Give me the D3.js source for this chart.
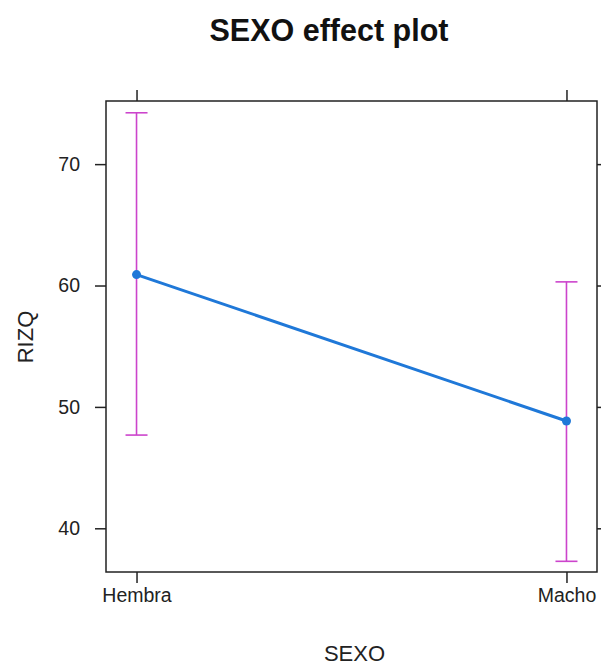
<!DOCTYPE html>
<html>
<head>
<meta charset="utf-8">
<script src="https://cdn.jsdelivr.net/npm/d3@7"></script>
<style>
  html, body { margin: 0; padding: 0; background: #fff; }
  svg text { font-family: "Liberation Sans", Arial, sans-serif; }
</style>
</head>
<body>
<svg id="chart" width="601" height="666"></svg>
<script>
// Effect of SEXO on RIZQ: fitted means with confidence limits
const categories = ["Hembra", "Macho"];
const fitValues = [60.9, 48.84];
const lowerValues = [47.68, 37.28];
const upperValues = [74.23, 60.3];
const yTickValues = [40, 50, 60, 70];

const svg = d3.select("#chart");
const box = { left: 106, right: 597, top: 101, bottom: 572 };

const x = d3.scalePoint().domain(categories).range([box.left, box.right]).padding(0.071);
const y = d3.scaleLinear().domain([36.4, 75.2]).range([box.bottom, box.top]);

const axisColor = "#222";
const rows = categories.map((c, i) => ({ c, fit: fitValues[i], lo: lowerValues[i], hi: upperValues[i] }));

// Title
svg.append("text")
  .attr("x", 329).attr("y", 41)
  .attr("text-anchor", "middle")
  .attr("font-size", 30.5).attr("font-weight", "bold").attr("fill", "#111")
  .text("SEXO effect plot");

// Axes on all four sides (labels only left and bottom)
const gBottom = svg.append("g").attr("transform", `translate(0,${box.bottom})`)
  .call(d3.axisBottom(x).tickSize(11).tickPadding(5));
const gTop = svg.append("g").attr("transform", `translate(0,${box.top})`)
  .call(d3.axisTop(x).tickSize(11).tickFormat(""));
const gLeft = svg.append("g").attr("transform", `translate(${box.left},0)`)
  .call(d3.axisLeft(y).tickValues(yTickValues).tickSize(11).tickPadding(15));
const gRight = svg.append("g").attr("transform", `translate(${box.right},0)`)
  .call(d3.axisRight(y).tickValues(yTickValues).tickSize(11).tickFormat(""));

[gBottom, gTop, gLeft, gRight].forEach(g => {
  g.select(".domain").remove();
  g.selectAll(".tick line").attr("stroke", axisColor).attr("stroke-width", 1.5);
  g.selectAll(".tick text").attr("font-size", 19.5).attr("fill", "#222")
    .attr("font-family", "Liberation Sans, Arial, sans-serif");
});

// Panel frame
svg.append("rect")
  .attr("x", box.left).attr("y", box.top)
  .attr("width", box.right - box.left).attr("height", box.bottom - box.top)
  .attr("fill", "none").attr("stroke", axisColor).attr("stroke-width", 1.5);

// Confidence intervals
const ciColor = "#cc44cc";
const capHalf = 11;
const ci = svg.append("g").attr("stroke", ciColor).attr("stroke-width", 1.6).attr("fill", "none");
ci.selectAll("line.v").data(rows).join("line").attr("class", "v")
  .attr("x1", d => x(d.c)).attr("x2", d => x(d.c))
  .attr("y1", d => y(d.lo)).attr("y2", d => y(d.hi));
ci.selectAll("line.hi").data(rows).join("line").attr("class", "hi")
  .attr("x1", d => x(d.c) - capHalf).attr("x2", d => x(d.c) + capHalf)
  .attr("y1", d => y(d.hi)).attr("y2", d => y(d.hi));
ci.selectAll("line.lo").data(rows).join("line").attr("class", "lo")
  .attr("x1", d => x(d.c) - capHalf).attr("x2", d => x(d.c) + capHalf)
  .attr("y1", d => y(d.lo)).attr("y2", d => y(d.lo));

// Fitted line and points
const fitColor = "#1f78d8";
svg.append("path").datum(rows)
  .attr("fill", "none").attr("stroke", fitColor).attr("stroke-width", 3)
  .attr("d", d3.line().x(d => x(d.c)).y(d => y(d.fit)));
svg.selectAll("circle.fit").data(rows).join("circle").attr("class", "fit")
  .attr("cx", d => x(d.c)).attr("cy", d => y(d.fit)).attr("r", 4.5)
  .attr("fill", fitColor);

// Axis titles
svg.append("text")
  .attr("x", (box.left + box.right) / 2 + 3).attr("y", 661)
  .attr("text-anchor", "middle").attr("font-size", 22).attr("fill", "#222")
  .text("SEXO");
svg.append("text")
  .attr("transform", "translate(33,337) rotate(-90)")
  .attr("text-anchor", "middle").attr("font-size", 22).attr("fill", "#222")
  .text("RIZQ");
</script>
</body>
</html>
